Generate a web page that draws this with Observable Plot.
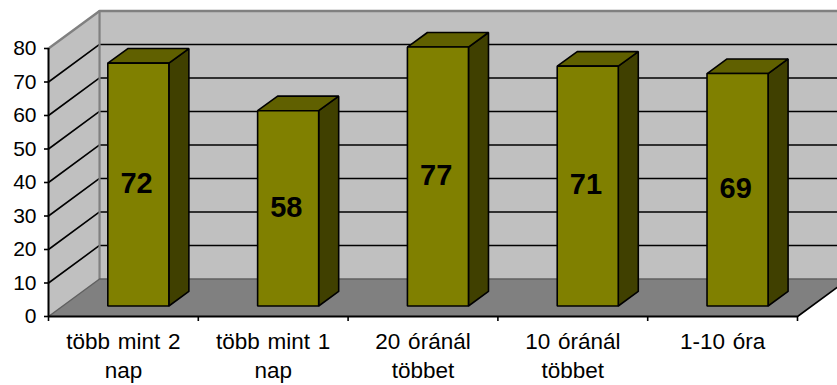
<!DOCTYPE html>
<html>
<head>
<meta charset="utf-8">
<script src="https://cdn.jsdelivr.net/npm/d3@7"></script>
<script src="https://cdn.jsdelivr.net/npm/@observablehq/plot@0.6"></script>
<style>html,body{margin:0;padding:0;background:#fff;overflow:hidden}</style>
</head>
<body>
<div id="chart"></div>
<script>
const categories = ["több mint 2\nnap", "több mint 1\nnap", "20 óránál\ntöbbet", "10 óránál\ntöbbet", "1-10 óra"];
const barLabels = [72, 58, 77, 71, 69];
const barHeights = [72.5, 58.3, 77.3, 71.6, 69.4];
const yTicks = [0, 10, 20, 30, 40, 50, 60, 70, 80];
const gridValues = [10, 20, 30, 40, 50, 60, 70];

// 3D projection, in data units
const wallDX = 0.3407, wallDY = 11.2;
const barStart = 0.396, barWidth = 0.4075, barLift = 3.13, barDX = 0.1336, barDY = 4.35;
const nCat = categories.length, yMax = 80;
const lineW = 1.6;

const poly = (pts) => pts.map(([x, y]) => ({x, y}));
const face = (pts, options) => Plot.line(poly(pts), {x: "x", y: "y", curve: "linear-closed", strokeLinejoin: "miter", ...options});
const path = (pts, options) => Plot.line(poly(pts), {x: "x", y: "y", ...options});

const backWall = face([[wallDX, wallDY], [nCat + wallDX, wallDY], [nCat + wallDX, yMax + wallDY], [wallDX, yMax + wallDY]], {fill: "#c0c0c0", stroke: "none"});
const leftWall = face([[0, 0], [wallDX, wallDY], [wallDX, yMax + wallDY], [0, yMax]], {fill: "#c0c0c0", stroke: "none"});
const floor = face([[0, 0], [wallDX, wallDY], [nCat + wallDX, wallDY], [nCat, 0]], {fill: "#808080", stroke: "none"});

const grid = gridValues.map(v => path([[0, v], [wallDX, v + wallDY], [nCat + wallDX, v + wallDY]], {stroke: "#000", strokeWidth: lineW}));
const wallEdges = [
  path([[0, yMax], [wallDX, yMax + wallDY], [nCat + wallDX, yMax + wallDY]], {stroke: "#808080", strokeWidth: 2.4}),
  path([[wallDX, wallDY], [wallDX, yMax + wallDY]], {stroke: "#808080", strokeWidth: 2.2}),
  path([[0, 0], [wallDX, wallDY], [nCat + wallDX, wallDY]], {stroke: "#606060", strokeWidth: 1.5}),
  path([[nCat, 0], [nCat + wallDX, wallDY]], {stroke: "#000", strokeWidth: lineW})
];

const bars = barHeights.flatMap((h, i) => {
  const x0 = i + barStart, x1 = x0 + barWidth, y0 = barLift, y1 = barLift + h;
  const st = {stroke: "#000", strokeWidth: lineW};
  return [
    face([[x1, y0], [x1 + barDX, y0 + barDY], [x1 + barDX, y1 + barDY], [x1, y1]], {fill: "#404000", ...st}),
    face([[x0, y1], [x1, y1], [x1 + barDX, y1 + barDY], [x0 + barDX, y1 + barDY]], {fill: "#606000", ...st}),
    face([[x0, y0], [x1, y0], [x1, y1], [x0, y1]], {fill: "#808000", ...st})
  ];
});

const labelRows = barLabels.map((v, i) => ({i, v, h: barHeights[i]}));

const chart = Plot.plot({
  width: 837,
  height: 385,
  marginLeft: 48,
  marginRight: 40,
  marginTop: 48,
  marginBottom: 69,
  style: {fontFamily: "'Liberation Sans', Arial, sans-serif", background: "#fff", color: "#000", overflow: "hidden", wordSpacing: "1.5px"},
  x: {type: "linear", domain: [0, nCat]},
  y: {type: "linear", domain: [0, yMax]},
  marks: [
    backWall, leftWall, floor,
    ...grid,
    ...wallEdges,
    ...bars,
    Plot.text(labelRows, {
      x: d => d.i + barStart + barWidth / 2 - 0.012,
      y: d => barLift + d.h / 2,
      text: d => String(d.v),
      fontSize: 29, fontWeight: "bold", fill: "#000", dy: -1
    }),
    Plot.ruleX([0], {y1: 0, y2: yMax, stroke: "#000", strokeWidth: 2}),
    Plot.ruleY([0], {x1: 0, x2: nCat, stroke: "#000", strokeWidth: 2}),
    Plot.axisY({ticks: yTicks, tickSize: 4, tickPadding: 8, fontSize: 21, label: null, stroke: "#000", strokeWidth: lineW}),
    Plot.axisX({ticks: d3.range(nCat + 1), tickSize: 5, text: null, label: null, stroke: "#000", strokeWidth: lineW}),
    Plot.axisX({
      ticks: categories.map((_, i) => i + 0.5),
      tickSize: 0,
      tickPadding: 12,
      tickFormat: t => categories[Math.floor(t)],
      fontSize: 22.5,
      lineHeight: 1.29,
      label: null,
      textOverflow: null
    })
  ]
});
document.getElementById("chart").appendChild(chart);
</script>
</body>
</html>
